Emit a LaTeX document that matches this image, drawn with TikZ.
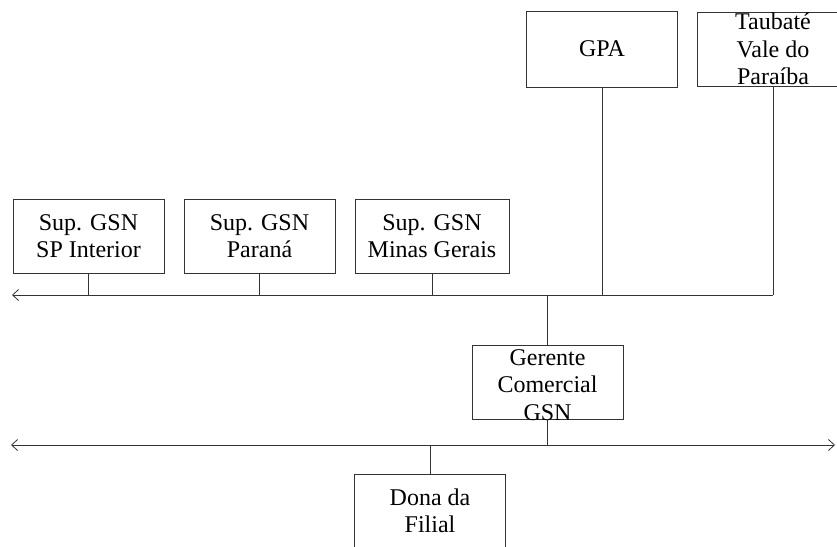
\documentclass[tikz,border=0pt]{standalone}
\usepackage{fontspec}
\setmainfont{Liberation Serif}
\usetikzlibrary{arrows.meta}
\begin{document}
\begin{tikzpicture}[x=1pt,y=-1pt,
  box/.style={draw=black!80,line width=0.9pt,minimum width=151pt,minimum height=74pt,inner sep=0pt},
  lbl/.style={align=center,font=\fontsize{24}{27.5}\selectfont,inner sep=0pt},
  wire/.style={draw=black!80,line width=0.8pt},
  barb/.tip={Straight Barb[length=6pt,width=11pt,line width=0.8pt]}]
\useasboundingbox[fill=white] (0,0) rectangle (837,546);
% boxes
\node[box,minimum height=76pt] (gpa) at (602,49) {};
\node[lbl] (gpat) at (gpa.center) {GPA};
\node[box] (taub) at (773,49) {};
\node[lbl] (taubt) at (taub.center) {Taubaté\\Vale do\\Paraíba};
\node[box] (s1) at (88.5,236) {};
\node[lbl] (s1t) at (s1.center) {Sup. GSN\\SP Interior};
\node[box] (s2) at (259.5,236) {};
\node[lbl] (s2t) at (s2.center) {Sup. GSN\\Paraná};
\node[box,minimum width=154pt] (s3) at (432,236) {};
\node[lbl] (s3t) at (s3.center) {Sup. GSN\\Minas Gerais};
\node[box] (ger) at (547.5,382) {};
\node[lbl,yshift=-3pt] (gert) at (ger.center) {Gerente\\Comercial\\GSN};
\node[box] (dona) at (430,511) {};
\node[lbl] (donat) at (dona.center) {Dona da\\Filial};
% buses
\coordinate (b1L) at (12,295);
\coordinate (b1R) at (773,295);
\coordinate (b2L) at (11,445);
\coordinate (b2R) at (835,445);
\draw[wire,-barb] (b1R) -- (b1L);
\draw[wire,barb-barb] (b2L) -- (b2R);
% connectors
\draw[wire] (taub.south) -- (b1R);
\draw[wire] (gpa.south) -- (gpa.south |- b1L);
\draw[wire] (s1.south) -- (s1.south |- b1L);
\draw[wire] (s2.south) -- (s2.south |- b1L);
\draw[wire] (s3.south) -- (s3.south |- b1L);
\draw[wire] (ger.north) -- (ger.north |- b1L);
\draw[wire] (ger.south) -- (ger.south |- b2L);
\draw[wire] (dona.north) -- (dona.north |- b2L);
\end{tikzpicture}
\end{document}
